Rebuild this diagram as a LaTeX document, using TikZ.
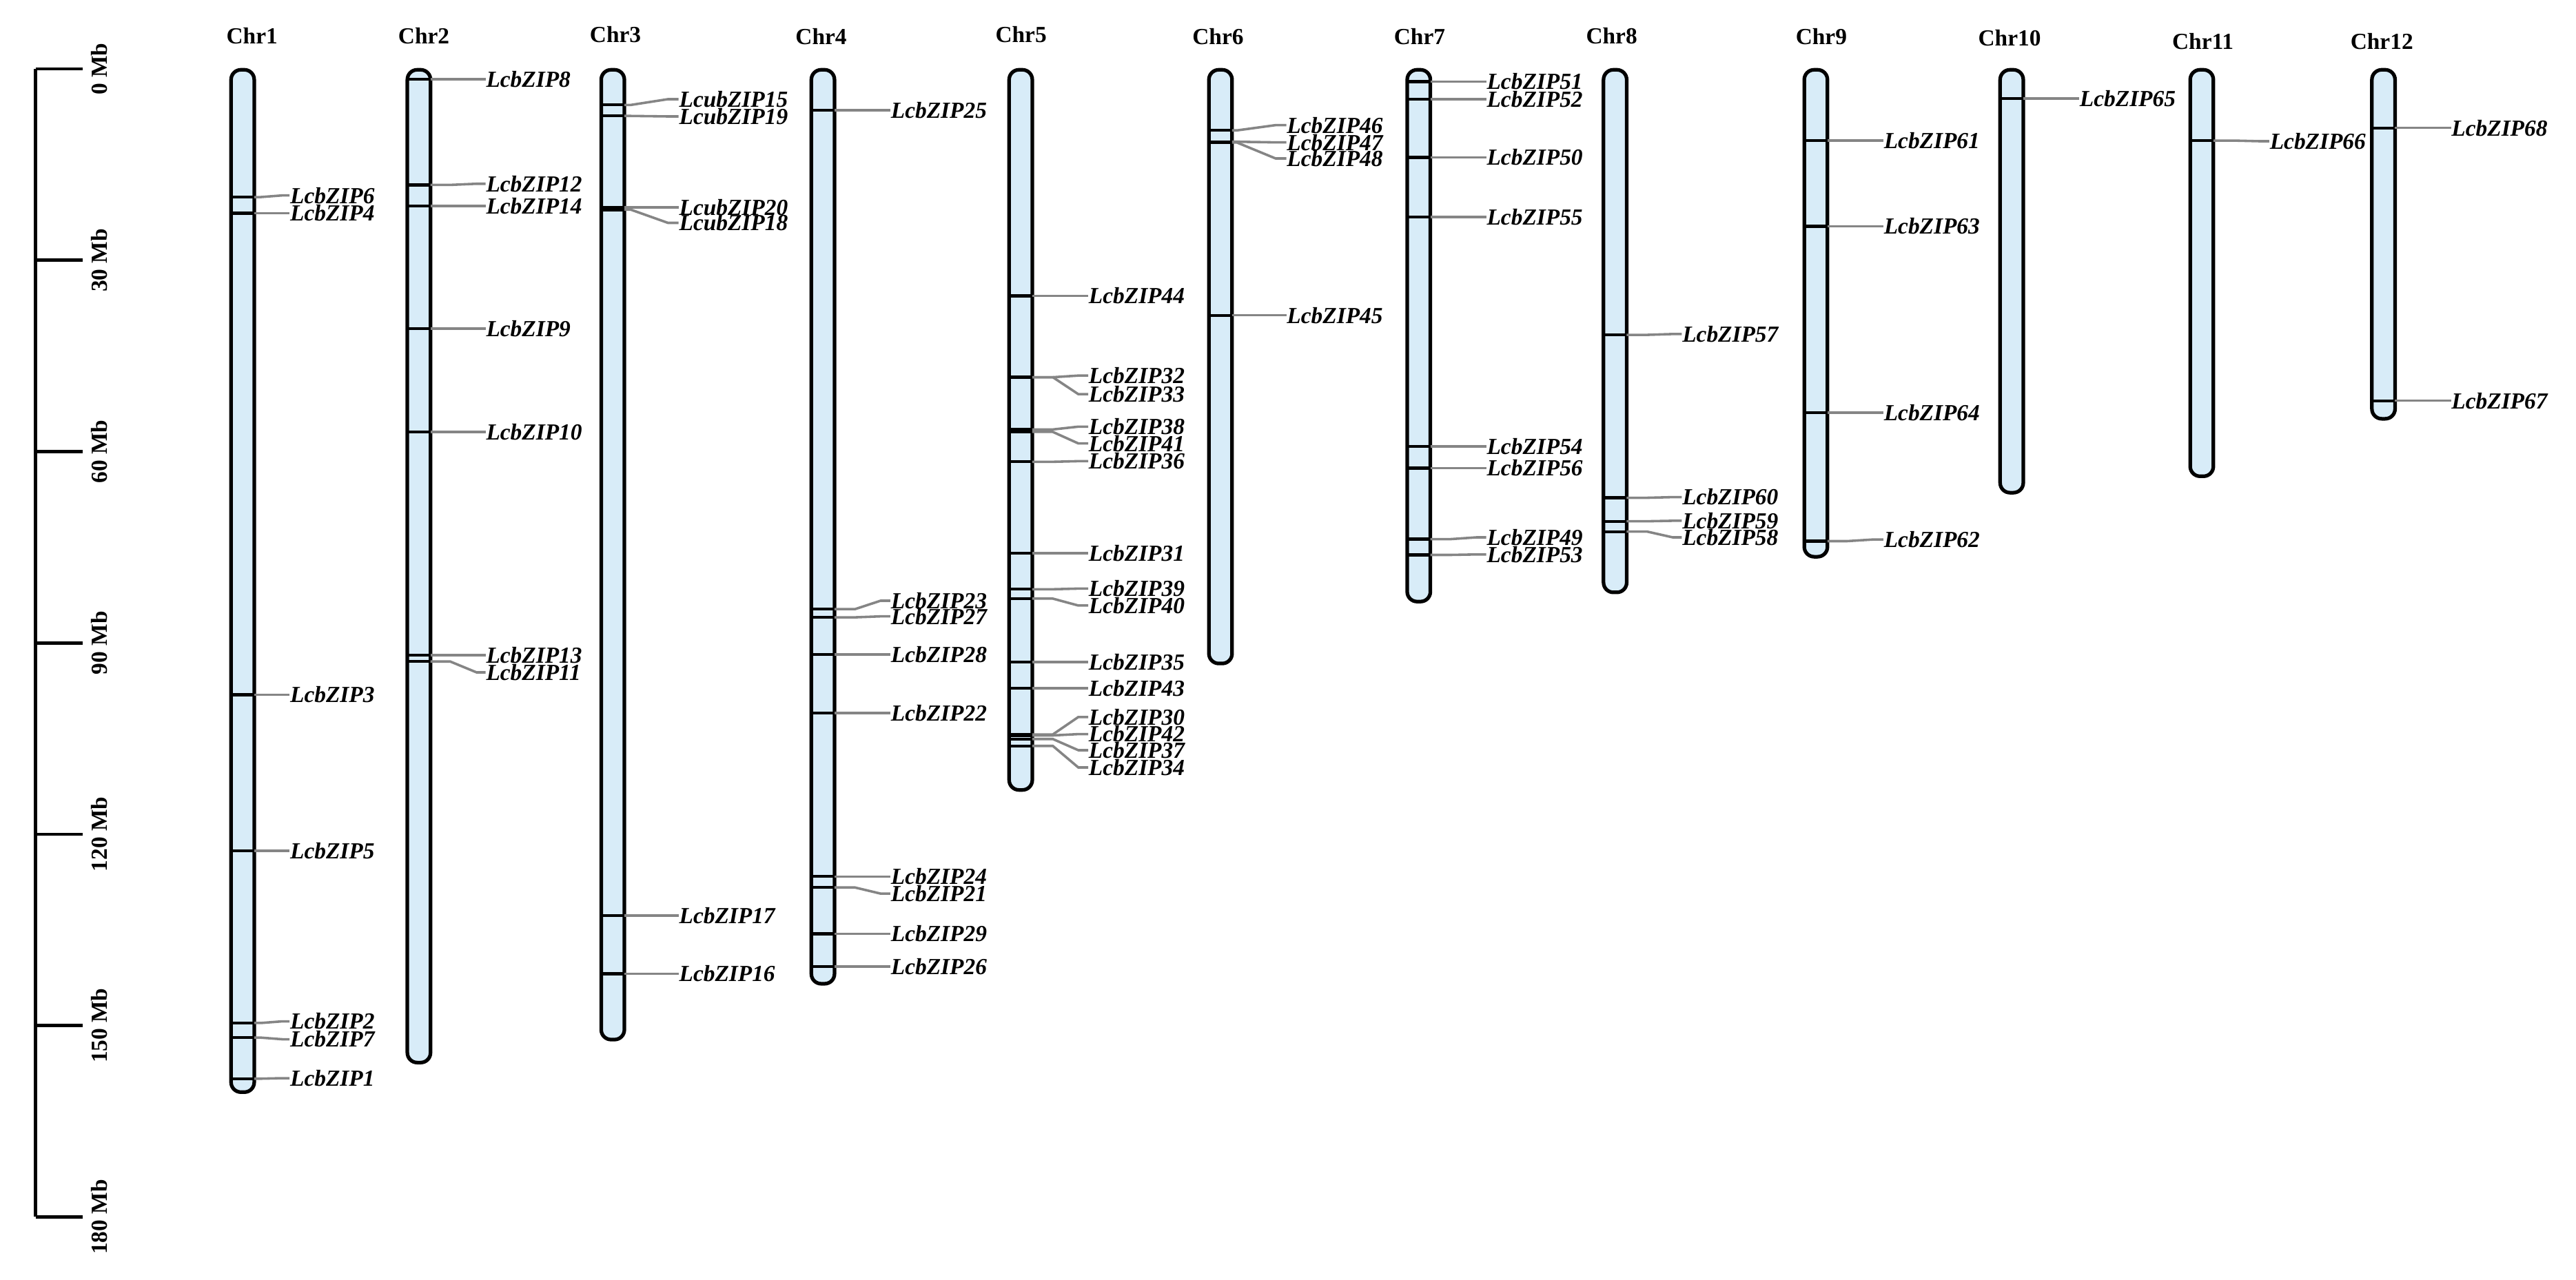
\documentclass[tikz,border=0pt]{standalone}
\usepackage{fontspec}
\setmainfont{Liberation Serif}
\usetikzlibrary{calc}
\definecolor{chrfill}{HTML}{D8ECF8}
\definecolor{conngray}{HTML}{858585}
\tikzset{
  chromo/.style={draw=black, fill=chrfill, line width=1.1pt, rounded corners=3pt},
  band/.style={draw=black, line width=0.9pt},
  conn/.style={draw=conngray, line width=0.75pt},
  glabel/.style={anchor=west, inner sep=0pt, font=\fontsize{7}{8}\selectfont\bfseries\itshape},
  chrlabel/.style={inner sep=0pt, font=\fontsize{7}{8}\selectfont\bfseries},
  scalelabel/.style={inner sep=0pt, rotate=90, font=\fontsize{7}{8}\selectfont\bfseries},
  scaleline/.style={draw=black, line width=1pt},
}
\newcommand{\cLL}{33.5}
\newcommand{\cAA}{12}
\newcommand{\cBB}{28}
\newcommand{\chromosome}[5]{% id, cx, bottom, label x, label y
  \draw[chromo] (#2-7.05,42.5) rectangle (#2+7.05,#3);
  \node[chrlabel] (Chr#1) at (#4,#5) {Chr#1};
}
\newcommand{\genemark}[4]{% cx, band y, label y, name
  \draw[band] (#1-7.05,#2) -- (#1+7.05,#2);
  \coordinate (b#4) at (#1+7.05,#2);
  \node[glabel] (#4) at (#1+7.05+\cLL,#3) {#4};
  \draw[conn] (b#4) -- ++(\cAA,0) -- ($(#4.west)+(\cBB-\cLL,0)$) -- (#4.west);
}
\newcommand{\setconn}[3]{\renewcommand{\cLL}{#1}\renewcommand{\cAA}{#2}\renewcommand{\cBB}{#3}}
\begin{document}
\begin{tikzpicture}[x=0.5pt,y=-0.5pt]
\useasboundingbox (0,0) rectangle (1568,779);
% scale bar
\coordinate (sTop) at (21.7,42);
\coordinate (sBot) at (21.7,741);
\draw[scaleline] (sTop) -- (sBot);
\foreach \k/\lab in {0/0 Mb,1/30 Mb,2/60 Mb,3/90 Mb,4/120 Mb,5/150 Mb,6/180 Mb}{
  \coordinate (tick\k) at (21.7,42+\k*116.5);
  \draw[scaleline] (tick\k) -- ++(28.5,0);
  \node[scalelabel] (slab\k) at (60.4,42+\k*116.5) {\lab};
}
% Chr1
\setconn{21.5}{4}{17}
\chromosome{1}{147.7}{665}{153.4}{21.7}
\genemark{147.7}{120.0}{119.0}{LcbZIP6}
\genemark{147.7}{129.8}{129.8}{LcbZIP4}
\genemark{147.7}{423}{423}{LcbZIP3}
\genemark{147.7}{518}{518}{LcbZIP5}
\genemark{147.7}{622.9}{621.9}{LcbZIP2}
\genemark{147.7}{631.8}{632.8}{LcbZIP7}
\genemark{147.7}{656.8}{656.5}{LcbZIP1}
% Chr2
\setconn{33.5}{12}{28}
\chromosome{2}{255}{647}{258}{21.7}
\genemark{255}{48.3}{48.3}{LcbZIP8}
\genemark{255}{112.6}{111.9}{LcbZIP12}
\genemark{255}{125.5}{125.5}{LcbZIP14}
\genemark{255}{200}{200}{LcbZIP9}
\genemark{255}{263}{263}{LcbZIP10}
\genemark{255}{399}{399}{LcbZIP13}
\genemark{255}{402.8}{409.4}{LcbZIP11}
% Chr3
\setconn{33}{4}{26.5}
\chromosome{3}{373}{633}{374.6}{21}
\genemark{373}{63.9}{60.4}{LcubZIP15}
\genemark{373}{70.6}{70.9}{LcubZIP19}
\genemark{373}{126.3}{126.3}{LcubZIP20}
\genemark{373}{127.7}{135.7}{LcubZIP18}
\genemark{373}{557.4}{557.4}{LcbZIP17}
\genemark{373}{592.9}{592.9}{LcbZIP16}
% Chr4
\setconn{34}{12.5}{28}
\chromosome{4}{500.9}{599}{499.8}{22.4}
\genemark{500.9}{67.1}{67.1}{LcbZIP25}
\genemark{500.9}{370.9}{365.8}{LcbZIP23}
\genemark{500.9}{375.9}{375.3}{LcbZIP27}
\genemark{500.9}{398.4}{398.4}{LcbZIP28}
\genemark{500.9}{434.2}{434.2}{LcbZIP22}
\genemark{500.9}{533.7}{533.7}{LcbZIP24}
\genemark{500.9}{540.4}{544.1}{LcbZIP21}
\genemark{500.9}{568.6}{568.6}{LcbZIP29}
\genemark{500.9}{588.5}{588.5}{LcbZIP26}
% Chr5
\setconn{34}{12.5}{28}
\chromosome{5}{621.3}{481}{621.5}{21}
\genemark{621.3}{180.2}{180.2}{LcbZIP44}
\genemark{621.3}{229.7}{228.7}{LcbZIP32}
\genemark{621.3}{229.7}{240.0}{LcbZIP33}
\genemark{621.3}{261.5}{259.8}{LcbZIP38}
\genemark{621.3}{263.0}{270.0}{LcbZIP41}
\genemark{621.3}{281.2}{280.8}{LcbZIP36}
\genemark{621.3}{336.8}{336.8}{LcbZIP31}
\genemark{621.3}{358.8}{358.4}{LcbZIP39}
\genemark{621.3}{364.5}{368.7}{LcbZIP40}
\genemark{621.3}{403.2}{403.2}{LcbZIP35}
\genemark{621.3}{419}{419}{LcbZIP43}
\genemark{621.3}{447.2}{436.6}{LcbZIP30}
\genemark{621.3}{447.8}{447.0}{LcbZIP42}
\genemark{621.3}{450}{456.8}{LcbZIP37}
\genemark{621.3}{454.2}{467.3}{LcbZIP34}
% Chr6
\setconn{33}{3}{26.5}
\chromosome{6}{742.9}{404}{741.4}{22.4}
\genemark{742.9}{79.4}{76.2}{LcbZIP46}
\genemark{742.9}{86.3}{86.7}{LcbZIP47}
\genemark{742.9}{86.8}{96.5}{LcbZIP48}
\genemark{742.9}{192}{192}{LcbZIP45}
% Chr7
\setconn{34}{12}{28}
\chromosome{7}{863.6}{366.3}{864.1}{22.4}
\genemark{863.6}{49.7}{49.7}{LcbZIP51}
\genemark{863.6}{60.4}{60.4}{LcbZIP52}
\genemark{863.6}{95.8}{95.8}{LcbZIP50}
\genemark{863.6}{132.2}{132.2}{LcbZIP55}
\genemark{863.6}{271.9}{271.9}{LcbZIP54}
\genemark{863.6}{285.0}{285.0}{LcbZIP56}
\genemark{863.6}{328.3}{327.2}{LcbZIP49}
\genemark{863.6}{337.9}{337.6}{LcbZIP53}
% Chr8
\setconn{33.5}{12.5}{28}
\chromosome{8}{983.1}{360.7}{981}{21.7}
\genemark{983.1}{203.9}{203.4}{LcbZIP57}
\genemark{983.1}{303.1}{302.7}{LcbZIP60}
\genemark{983.1}{317.4}{317.1}{LcbZIP59}
\genemark{983.1}{323.7}{327.2}{LcbZIP58}
% Chr9
\setconn{34}{12}{28}
\chromosome{9}{1105.3}{339}{1108.6}{22.4}
\genemark{1105.3}{85.6}{85.6}{LcbZIP61}
\genemark{1105.3}{137.8}{137.8}{LcbZIP63}
\genemark{1105.3}{251.3}{251.3}{LcbZIP64}
\genemark{1105.3}{329.5}{328.5}{LcbZIP62}
% Chr10
\chromosome{10}{1224.5}{300}{1223.2}{23.1}
\genemark{1224.5}{59.9}{59.9}{LcbZIP65}
% Chr11
\chromosome{11}{1340.2}{290}{1340.9}{25.2}
\genemark{1340.2}{85.6}{86.0}{LcbZIP66}
% Chr12
\chromosome{12}{1450.8}{255}{1449.8}{25.2}
\genemark{1450.8}{77.9}{77.9}{LcbZIP68}
\genemark{1450.8}{244}{244}{LcbZIP67}
\end{tikzpicture}
\end{document}
